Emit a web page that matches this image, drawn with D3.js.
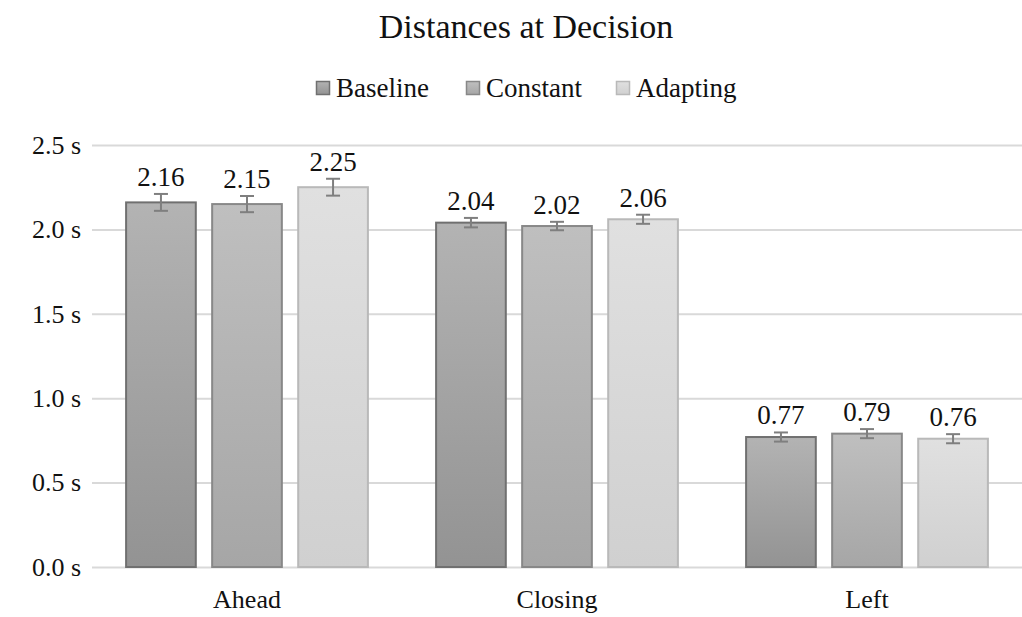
<!DOCTYPE html>
<html>
<head>
<meta charset="utf-8">
<script src="https://cdn.jsdelivr.net/npm/d3@7"></script>
<style>
  body { margin: 0; background: #fff; }
  svg text { font-family: "Liberation Serif", "Times New Roman", Times, "DejaVu Serif", serif; }
</style>
</head>
<body>
<div id="chart"></div>
<script>
// data
const categories = ["Ahead", "Closing", "Left"];
const seriesNames = ["Baseline", "Constant", "Adapting"];
const baseline = [2.16, 2.04, 0.77];
const constant = [2.15, 2.02, 0.79];
const adapting = [2.25, 2.06, 0.76];
const baselineErr = [0.05, 0.028, 0.027];
const constantErr = [0.048, 0.025, 0.027];
const adaptingErr = [0.05, 0.027, 0.027];
const yTicks = [0, 0.5, 1.0, 1.5, 2.0, 2.5];

const values = [baseline, constant, adapting];
const errors = [baselineErr, constantErr, adaptingErr];

// gradient colours per series: top, bottom, outline
const fills = [
  {top: "#b3b3b3", bottom: "#939393", stroke: "#707070"},
  {top: "#bfbfbf", bottom: "#a6a6a6", stroke: "#888888"},
  {top: "#e0e0e0", bottom: "#d0d0d0", stroke: "#b9b9b9"}
];

const width = 1022, height = 617;
const margin = {top: 145, right: 0, bottom: 50, left: 92};
const serif = '"Liberation Serif", "Times New Roman", Times, "DejaVu Serif", serif';

const svg = d3.select("#chart").append("svg")
  .attr("width", width)
  .attr("height", height);

const defs = svg.append("defs");
fills.forEach((f, i) => {
  const g = defs.append("linearGradient")
    .attr("id", "grad" + i)
    .attr("x1", 0).attr("y1", 0).attr("x2", 0).attr("y2", 1);
  g.append("stop").attr("offset", "0%").attr("stop-color", f.top);
  g.append("stop").attr("offset", "100%").attr("stop-color", f.bottom);
});

const x0 = d3.scaleBand()
  .domain(categories)
  .range([margin.left, width - margin.right])
  .paddingInner(0.22)
  .paddingOuter(0.11);

const x1 = d3.scaleBand()
  .domain(seriesNames)
  .range([0, x0.bandwidth()])
  .paddingInner(0.19);

const y = d3.scaleLinear()
  .domain([0, 2.5])
  .range([height - margin.bottom, margin.top]);

// title
svg.append("text")
  .attr("x", 526)
  .attr("y", 38)
  .attr("text-anchor", "middle")
  .style("font-family", serif)
  .style("font-size", "34px")
  .attr("fill", "#111")
  .text("Distances at Decision");

// legend
const legendX = [316, 466, 616];
const legend = svg.append("g");
seriesNames.forEach((name, i) => {
  legend.append("rect")
    .attr("x", legendX[i] + 0.5)
    .attr("y", 81.5)
    .attr("width", 13)
    .attr("height", 13)
    .attr("fill", "url(#grad" + i + ")")
    .attr("stroke", fills[i].stroke)
    .attr("stroke-width", 1.5);
  legend.append("text")
    .attr("x", legendX[i] + 20)
    .attr("y", 97)
    .style("font-family", serif)
    .style("font-size", "27px")
    .attr("fill", "#111")
    .text(name);
});

// gridlines + y labels
const yAxis = d3.axisLeft(y)
  .tickValues(yTicks)
  .tickSize(-(width - margin.left - margin.right))
  .tickFormat(d => d3.format(".1f")(d) + " s");

const gy = svg.append("g")
  .attr("transform", `translate(${margin.left},0)`)
  .call(yAxis);
gy.attr("font-family", null);
gy.select(".domain").remove();
gy.selectAll(".tick line")
  .attr("stroke", "#d9d9d9")
  .attr("stroke-width", 2);
gy.selectAll(".tick text")
  .attr("x", -11)
  .attr("fill", "#111")
  .style("font-size", "26px")
  .style("font-family", serif);

// category labels
const xAxis = d3.axisBottom(x0).tickSize(0);
const gx = svg.append("g")
  .attr("transform", `translate(0,${height - margin.bottom})`)
  .call(xAxis);
gx.attr("font-family", null);
gx.select(".domain").remove();
gx.selectAll(".tick text")
  .attr("y", 41)
  .attr("dy", null)
  .attr("fill", "#111")
  .style("font-size", "26px")
  .style("font-family", serif);

// bars
const groups = svg.selectAll(".grp")
  .data(categories)
  .join("g")
  .attr("class", "grp")
  .attr("transform", d => `translate(${x0(d)},0)`);

groups.each(function(cat, ci) {
  const g = d3.select(this);
  seriesNames.forEach((s, si) => {
    const v = values[si][ci];
    const e = errors[si][ci];
    const bx = x1(s);
    const bw = x1.bandwidth();
    g.append("rect")
      .attr("x", bx)
      .attr("y", y(v))
      .attr("width", bw)
      .attr("height", y(0) - y(v))
      .attr("fill", "url(#grad" + si + ")")
      .attr("stroke", fills[si].stroke)
      .attr("stroke-width", 2);

    // error bar
    const cx = bx + bw / 2;
    const eb = g.append("g").attr("stroke", "#7f7f7f").attr("stroke-width", 2);
    eb.append("line").attr("x1", cx).attr("x2", cx).attr("y1", y(v + e)).attr("y2", y(v - e));
    eb.append("line").attr("x1", cx - 7).attr("x2", cx + 7).attr("y1", y(v + e)).attr("y2", y(v + e));
    eb.append("line").attr("x1", cx - 7).attr("x2", cx + 7).attr("y1", y(v - e)).attr("y2", y(v - e));

    g.append("text")
      .attr("x", cx)
      .attr("y", y(v + e) - 8)
      .attr("text-anchor", "middle")
      .style("font-family", serif)
      .style("font-size", "27px")
      .attr("fill", "#111")
      .text(d3.format(".2f")(v));
  });
});
</script>
</body>
</html>
